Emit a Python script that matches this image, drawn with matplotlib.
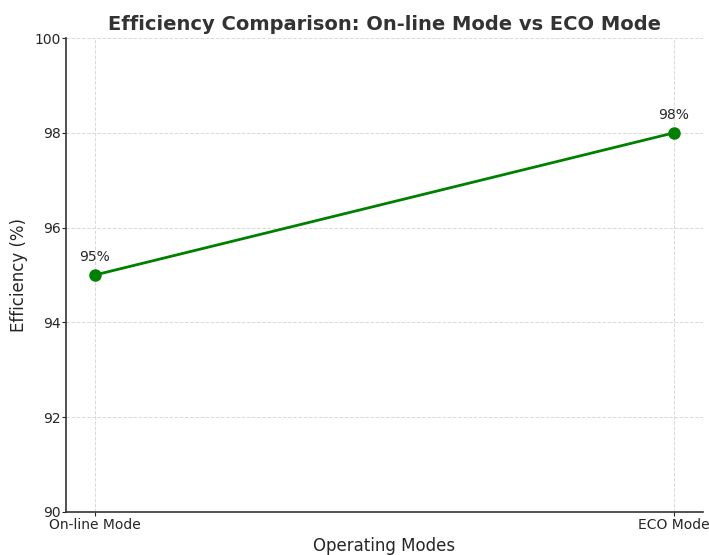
import matplotlib
matplotlib.use("Agg")
import matplotlib.pyplot as plt

modes = ["On-line Mode", "ECO Mode"]
efficiency = [95, 98]

fig = plt.figure(figsize=(7.09, 5.55), dpi=100)
ax = fig.add_axes([0.093, 0.0775, 0.8985, 0.854])

ax.plot(modes, efficiency, color="green", linewidth=2, marker="o", markersize=8)
for x, y in zip(modes, efficiency):
    ax.annotate(f"{y}%", (x, y), textcoords="offset points", xytext=(0, 10),
                ha="center", fontsize=10, color="#262626")

ax.set_ylim(90, 100)
ax.set_title("Efficiency Comparison: On-line Mode vs ECO Mode",
             fontsize=14, fontweight="bold", color="#333333")
ax.set_xlabel("Operating Modes", fontsize=12, color="#262626", labelpad=4)
ax.set_ylabel("Efficiency (%)", fontsize=12, color="#262626")
ax.grid(True, linestyle="--", color="#d9d9d9", linewidth=0.7)
ax.spines["top"].set_visible(False)
ax.spines["right"].set_visible(False)
for s in ("left", "bottom"):
    ax.spines[s].set_color("#333333")
    ax.spines[s].set_linewidth(1.2)
ax.tick_params(length=3, pad=1, labelsize=10, colors="#262626")

fig.savefig("out.png", dpi=100)
